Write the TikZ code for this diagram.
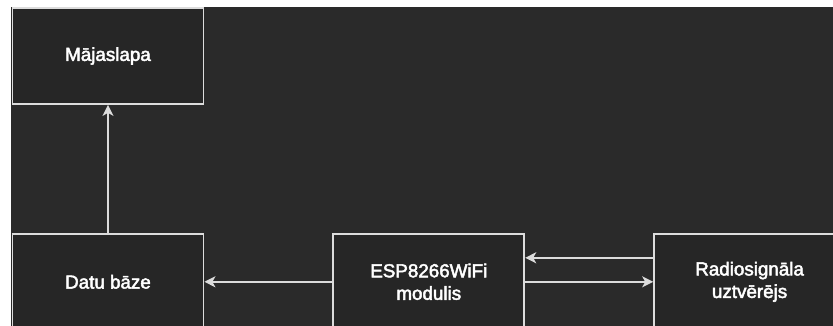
\documentclass[tikz,border=0pt]{standalone}
\usepackage{fontspec}
\setmainfont{Liberation Sans}
\newfontfamily\blokfont[FakeBold=2.5]{Liberation Sans}
\usetikzlibrary{arrows.meta, positioning}
\definecolor{fons}{HTML}{2A2A2A}
\definecolor{bloks}{HTML}{262626}
\definecolor{mala}{HTML}{DCDCDC}
\tikzset{
    blok/.style={draw=mala, line width=1.8pt, fill=bloks, text=white, align=center,
        minimum width=191pt, minimum height=96pt, inner sep=0pt,
        font=\blokfont\fontsize{18.8}{22.5}\selectfont},
    bulta/.style={draw=mala, line width=1.8pt,
        -{Stealth[length=11pt,width=11pt,inset=3pt,fill=mala]}}
}

\begin{document}
\begin{tikzpicture}[x=1pt,y=-1pt]
                \useasboundingbox (0,0) rectangle (833,326);
                \fill[white] (0,0) rectangle (833,326);
                \fill[fons] (11,7) rectangle (833,326);
                \clip (11,7) rectangle (833,326);
                \node[blok] (maja) at (108,56) {Mājaslapa};
                \node[blok, below=128pt of maja] (db) {Datu bāze};
                \node[blok, right=128pt of db] (esp) {ESP8266WiFi\\modulis};
                \node[blok, right=128pt of esp] (radio) {Radiosignāla\\uztvērējs};
                \draw[bulta] (db) -- (maja);
                \draw[bulta] (esp) -- (db);
                \draw[bulta] ([yshift=24pt]radio.west) -- ([yshift=24pt]esp.east);
                \draw[bulta] (esp) -- (radio);
            \end{tikzpicture}
\end{document}
